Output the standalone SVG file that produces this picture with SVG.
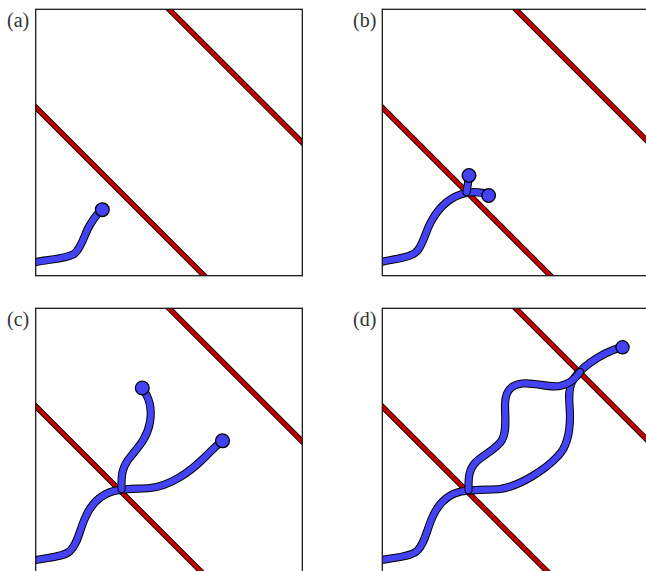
<svg xmlns="http://www.w3.org/2000/svg" width="646" height="571" viewBox="0 0 646 571">
<style>
.frame{fill:none;stroke:#1a1a1a;stroke-width:1.3}
.rout{stroke:#000;stroke-width:5.6;fill:none}
.rin{stroke:#c00000;stroke-width:4;fill:none}
.bout{stroke:#000;stroke-width:8.2;fill:none;stroke-linecap:round;stroke-linejoin:round}
.bin{stroke:#4343f5;stroke-width:6.2;fill:none;stroke-linecap:round;stroke-linejoin:round}
.ball{fill:#4343f5;stroke:#000;stroke-width:1.3}
.lab{font-family:"Liberation Serif","Times New Roman",serif;font-size:20px;fill:#333}
</style>
<defs>
<clipPath id="ca"><rect x="35.7" y="9.3" width="266.6" height="266.4"/></clipPath>
<clipPath id="cb"><rect x="382.3" y="9.3" width="266.6" height="266.4"/></clipPath>
<clipPath id="cc"><rect x="35.7" y="308.3" width="266.6" height="266.4"/></clipPath>
<clipPath id="cd"><rect x="382.3" y="308.3" width="266.6" height="266.4"/></clipPath>
</defs>
<rect width="646" height="571" fill="#fff"/>

<g id="panel-a">
<g clip-path="url(#ca)">
<path class="rout" d="M149,-10.7 L469,309.3 M16,87.5 L336,407.5"/>
<path class="rin" d="M149,-10.7 L469,309.3 M16,87.5 L336,407.5"/>
<path class="bout" d="M30,263 C50,259 66,259 74,254 C82,248 85,232 90,225 C94,218 98,213 102,210"/>
<path class="bin" d="M30,263 C50,259 66,259 74,254 C82,248 85,232 90,225 C94,218 98,213 102,210"/>
</g>
<circle class="ball" cx="102.3" cy="209.7" r="6.9"/>
<rect class="frame" x="35.7" y="9.3" width="266.6" height="266.4"/>
<text class="lab" x="7" y="27">(a)</text>
</g>

<g id="panel-b">
<g clip-path="url(#cb)">
<path class="rout" d="M495.6,-10.7 L815.6,309.3 M362.3,87.5 L682.3,407.5"/>
<path class="rin" d="M495.6,-10.7 L815.6,309.3 M362.3,87.5 L682.3,407.5"/>
<path class="bout" d="M376,263 C398,258 412,258 418,250 C424,242 426,230 432,220 C440,206 452,196 466,193 C474,191.5 482,192 488,195"/>
<path class="bin" d="M376,263 C398,258 412,258 418,250 C424,242 426,230 432,220 C440,206 452,196 466,193 C474,191.5 482,192 488,195"/>
<path class="bout" d="M466.5,192 C467,188 468.5,183 469,175"/>
<path class="bin" d="M466.5,192 C467,188 468.5,183 469,175"/>
</g>
<circle class="ball" cx="469" cy="175.5" r="6.8"/>
<circle class="ball" cx="488.6" cy="195.5" r="6.8"/>
<rect class="frame" x="382.3" y="9.3" width="266.6" height="266.4"/>
<text class="lab" x="353" y="27">(b)</text>
</g>

<g id="panel-c">
<g clip-path="url(#cc)">
<path class="rout" d="M149,288.3 L469,608.3 M16,386.5 L336,706.5"/>
<path class="rin" d="M149,288.3 L469,608.3 M16,386.5 L336,706.5"/>
<path class="bout" d="M30,561 C50,557 64,557 70,551 C78,544 80,528 86,516 C92,503 102,494 114,491 C126,488 140,489 150,488 C170,486 190,472 204,458 C212,450 218,444 222,441"/>
<path class="bin" d="M30,561 C50,557 64,557 70,551 C78,544 80,528 86,516 C92,503 102,494 114,491 C126,488 140,489 150,488 C170,486 190,472 204,458 C212,450 218,444 222,441"/>
<path class="bout" d="M121.5,489 C121.5,478 121,470 128,460 C136,449 147,440 150,422 C152,410 150,398 142,388"/>
<path class="bin" d="M121.5,489 C121.5,478 121,470 128,460 C136,449 147,440 150,422 C152,410 150,398 142,388"/>
</g>
<circle class="ball" cx="142.3" cy="388" r="6.9"/>
<circle class="ball" cx="222.5" cy="440.8" r="6.9"/>
<rect class="frame" x="35.7" y="308.3" width="266.6" height="266.4"/>
<text class="lab" x="7" y="326">(c)</text>
</g>

<g id="panel-d">
<g clip-path="url(#cd)">
<path class="rout" d="M495.6,288.3 L815.6,608.3 M362.3,386.5 L682.3,706.5"/>
<path class="rin" d="M495.6,288.3 L815.6,608.3 M362.3,386.5 L682.3,706.5"/>
<path class="bout" d="M376,561 C397,557 410,557 417,551 C425,544 427,528 433,516 C439,503 449,494 461,491.5 C475,489 490,490 500,489 C520,486 545,470 558,456 C568,446 570,430 570,416 C570,404 567,392 572,382 C578,370 598,354 622,347"/>
<path class="bin" d="M376,561 C397,557 410,557 417,551 C425,544 427,528 433,516 C439,503 449,494 461,491.5 C475,489 490,490 500,489 C520,486 545,470 558,456 C568,446 570,430 570,416 C570,404 567,392 572,382 C578,370 598,354 622,347"/>
<path class="bout" d="M468.5,490 C468.5,480 468,470 476,462 C484,454 497,449 502,440 C507,431 505,418 505,405 C505,392 510,385 522,383.5 C535,382 548,388 560,386 C570,384 576,378 580,372"/>
<path class="bin" d="M468.5,490 C468.5,480 468,470 476,462 C484,454 497,449 502,440 C507,431 505,418 505,405 C505,392 510,385 522,383.5 C535,382 548,388 560,386 C570,384 576,378 580,372"/>
</g>
<circle class="ball" cx="622.5" cy="347.3" r="6.6"/>
<rect class="frame" x="382.3" y="308.3" width="266.6" height="266.4"/>
<text class="lab" x="353" y="326">(d)</text>
</g>
</svg>
